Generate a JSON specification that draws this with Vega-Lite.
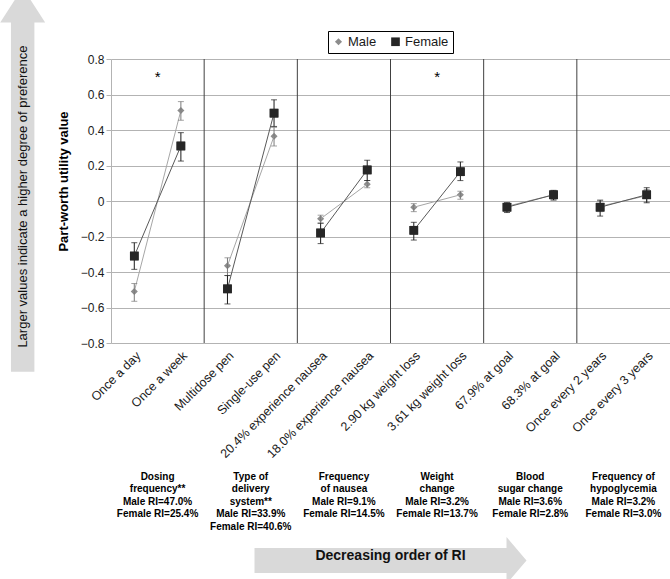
{
  "$schema": "https://vega.github.io/schema/vega-lite/v6.json",
  "width": 559,
  "height": 284,
  "autosize": {"type": "none"},
  "padding": {"left": 111, "top": 59, "right": 0, "bottom": 236},
  "background": "white",
  "config": {
    "font": "Liberation Sans",
    "view": {"stroke": null},
    "axisY": {"tickCount": 12, "format": ".1~f", "grid": true, "gridColor": "#b3b3b3", "domainColor": "#b3b3b3", "tickColor": "#b3b3b3", "tickSize": 5, "labelFontSize": 12, "labelColor": "#1a1a1a", "labelPadding": 2, "labelOverlap": false, "titleFontSize": 13, "titleFontWeight": "bold", "titleColor": "#000000", "titleX": -48, "titleY": 122, "titleAngle": -90, "titleBaseline": "middle", "titleAlign": "center"}
  },
  "datasets": {
    "pw": [
      {"attr": "Dosing frequency", "level": "Once a day", "sex": "Male", "v": -0.51, "lo": -0.565, "hi": -0.465},
      {"attr": "Dosing frequency", "level": "Once a day", "sex": "Female", "v": -0.31, "lo": -0.385, "hi": -0.235},
      {"attr": "Dosing frequency", "level": "Once a week", "sex": "Male", "v": 0.51, "lo": 0.455, "hi": 0.56},
      {"attr": "Dosing frequency", "level": "Once a week", "sex": "Female", "v": 0.31, "lo": 0.225, "hi": 0.385},
      {"attr": "Type of delivery system", "level": "Multidose pen", "sex": "Male", "v": -0.365, "lo": -0.42, "hi": -0.32},
      {"attr": "Type of delivery system", "level": "Multidose pen", "sex": "Female", "v": -0.495, "lo": -0.58, "hi": -0.42},
      {"attr": "Type of delivery system", "level": "Single-use pen", "sex": "Male", "v": 0.365, "lo": 0.31, "hi": 0.415},
      {"attr": "Type of delivery system", "level": "Single-use pen", "sex": "Female", "v": 0.495, "lo": 0.42, "hi": 0.57},
      {"attr": "Frequency of nausea", "level": "20.4% experience nausea", "sex": "Male", "v": -0.1, "lo": -0.125, "hi": -0.08},
      {"attr": "Frequency of nausea", "level": "20.4% experience nausea", "sex": "Female", "v": -0.18, "lo": -0.24, "hi": -0.125},
      {"attr": "Frequency of nausea", "level": "18.0% experience nausea", "sex": "Male", "v": 0.095, "lo": 0.075, "hi": 0.115},
      {"attr": "Frequency of nausea", "level": "18.0% experience nausea", "sex": "Female", "v": 0.175, "lo": 0.115, "hi": 0.23},
      {"attr": "Weight change", "level": "2.90 kg weight loss", "sex": "Male", "v": -0.035, "lo": -0.06, "hi": -0.015},
      {"attr": "Weight change", "level": "2.90 kg weight loss", "sex": "Female", "v": -0.165, "lo": -0.22, "hi": -0.12},
      {"attr": "Weight change", "level": "3.61 kg weight loss", "sex": "Male", "v": 0.035, "lo": 0.01, "hi": 0.055},
      {"attr": "Weight change", "level": "3.61 kg weight loss", "sex": "Female", "v": 0.165, "lo": 0.115, "hi": 0.22},
      {"attr": "Blood sugar change", "level": "67.9% at goal", "sex": "Male", "v": -0.03, "lo": -0.055, "hi": -0.01},
      {"attr": "Blood sugar change", "level": "67.9% at goal", "sex": "Female", "v": -0.035, "lo": -0.065, "hi": -0.01},
      {"attr": "Blood sugar change", "level": "68.3% at goal", "sex": "Male", "v": 0.035, "lo": 0.01, "hi": 0.055},
      {"attr": "Blood sugar change", "level": "68.3% at goal", "sex": "Female", "v": 0.035, "lo": 0.005, "hi": 0.06},
      {"attr": "Frequency of hypoglycemia", "level": "Once every 2 years", "sex": "Male", "v": -0.03, "lo": -0.06, "hi": 0.0},
      {"attr": "Frequency of hypoglycemia", "level": "Once every 2 years", "sex": "Female", "v": -0.035, "lo": -0.085, "hi": 0.005},
      {"attr": "Frequency of hypoglycemia", "level": "Once every 3 years", "sex": "Male", "v": 0.03, "lo": -0.005, "hi": 0.065},
      {"attr": "Frequency of hypoglycemia", "level": "Once every 3 years", "sex": "Female", "v": 0.035, "lo": -0.01, "hi": 0.075}
    ],
    "seps": [
      {"level": "Multidose pen"},
      {"level": "20.4% experience nausea"},
      {"level": "2.90 kg weight loss"},
      {"level": "67.9% at goal"},
      {"level": "Once every 2 years"}
    ],
    "stars": [
      {"level": "Once a week", "txt": "*"},
      {"level": "3.61 kg weight loss", "txt": "*"}
    ],
    "ri": [
      {"level": "Once a week", "txt": "Dosing\nfrequency**\nMale RI=47.0%\nFemale RI=25.4%"},
      {"level": "Single-use pen", "txt": "Type of\ndelivery\nsystem**\nMale RI=33.9%\nFemale RI=40.6%"},
      {"level": "18.0% experience nausea", "txt": "Frequency\nof nausea\nMale RI=9.1%\nFemale RI=14.5%"},
      {"level": "3.61 kg weight loss", "txt": "Weight\nchange\nMale RI=3.2%\nFemale RI=13.7%"},
      {"level": "68.3% at goal", "txt": "Blood\nsugar change\nMale RI=3.6%\nFemale RI=2.8%"},
      {"level": "Once every 3 years", "txt": "Frequency of\nhypoglycemia\nMale RI=3.2%\nFemale RI=3.0%"}
    ],
    "arrowH": [{"label": "Decreasing order of RI"}],
    "arrowV": [{"label": "Larger values indicate a higher degree of preference"}]
  },
  "layer": [
    {
      "layer": [
        {
          "data": {"name": "pw"},
          "mark": {"type": "point", "filled": true, "opacity": 1, "strokeWidth": 0},
          "encoding": {
            "x": {
              "field": "level", "type": "nominal",
              "scale": {"type": "band", "paddingInner": 0, "paddingOuter": 0,
                "domain": ["Once a day", "Once a week", "Multidose pen", "Single-use pen", "20.4% experience nausea", "18.0% experience nausea", "2.90 kg weight loss", "3.61 kg weight loss", "67.9% at goal", "68.3% at goal", "Once every 2 years", "Once every 3 years"]},
              "axis": {"title": null, "labelAngle": -45, "labelFontSize": 12.5, "labelColor": "#1a1a1a", "ticks": false, "domain": false, "grid": false, "labelPadding": 6}
            },
            "y": {
              "field": "v", "type": "quantitative", "title": "Part-worth utility value",
              "scale": {"domain": [-0.8, 0.8], "nice": false, "zero": false},
              "axis": {"values": [-0.8, -0.6, -0.4, -0.2, 0, 0.2, 0.4, 0.6, 0.8], "tickCount": 12}
            },
            "color": {"field": "sex", "type": "nominal", "scale": {"domain": ["Male", "Female"], "range": ["#8c8c8c", "#262626"]},
              "legend": {"orient": "none", "legendX": 217, "legendY": -28, "direction": "horizontal", "title": null, "strokeColor": "#000000", "padding": 4, "labelFontSize": 13, "labelColor": "#1a1a1a", "symbolSize": 50, "columnPadding": 12, "labelOffset": 3, "fillColor": "#ffffff"}},
            "shape": {"field": "sex", "type": "nominal", "scale": {"domain": ["Male", "Female"], "range": ["diamond", "square"]}},
            "size": {"field": "sex", "type": "nominal", "scale": {"domain": ["Male", "Female"], "range": [50, 75]}, "legend": null}
          }
        },
        {
          "data": {"name": "seps"},
          "mark": {"type": "rule", "color": "#404040", "strokeWidth": 1},
          "encoding": {"x": {"field": "level", "type": "nominal", "bandPosition": 0}}
        },
        {
          "data": {"name": "pw"},
          "transform": [{"filter": "datum.sex === 'Male'"}],
          "mark": {"type": "line", "color": "#a6a6a6", "strokeWidth": 1},
          "encoding": {"x": {"field": "level", "type": "nominal"}, "y": {"field": "v", "type": "quantitative", "title": "Part-worth utility value", "axis": {"values": [-0.8, -0.6, -0.4, -0.2, 0, 0.2, 0.4, 0.6, 0.8], "tickCount": 12}}, "detail": {"field": "attr"}}
        },
        {
          "data": {"name": "pw"},
          "transform": [{"filter": "datum.sex === 'Female'"}],
          "mark": {"type": "line", "color": "#595959", "strokeWidth": 1},
          "encoding": {"x": {"field": "level", "type": "nominal"}, "y": {"field": "v", "type": "quantitative", "title": "Part-worth utility value", "axis": {"values": [-0.8, -0.6, -0.4, -0.2, 0, 0.2, 0.4, 0.6, 0.8], "tickCount": 12}}, "detail": {"field": "attr"}}
        },
        {
          "data": {"name": "pw"},
          "transform": [{"filter": "datum.sex === 'Male'"}],
          "mark": {"type": "errorbar", "ticks": {"size": 6, "color": "#7a7a7a"}, "rule": {"color": "#7a7a7a"}},
          "encoding": {"x": {"field": "level", "type": "nominal"}, "y": {"field": "lo", "type": "quantitative", "title": "Part-worth utility value", "axis": {"values": [-0.8, -0.6, -0.4, -0.2, 0, 0.2, 0.4, 0.6, 0.8], "tickCount": 12}}, "y2": {"field": "hi"}}
        },
        {
          "data": {"name": "pw"},
          "transform": [{"filter": "datum.sex === 'Female'"}],
          "mark": {"type": "errorbar", "ticks": {"size": 6, "color": "#1a1a1a"}, "rule": {"color": "#1a1a1a"}},
          "encoding": {"x": {"field": "level", "type": "nominal"}, "y": {"field": "lo", "type": "quantitative", "title": "Part-worth utility value", "axis": {"values": [-0.8, -0.6, -0.4, -0.2, 0, 0.2, 0.4, 0.6, 0.8], "tickCount": 12}}, "y2": {"field": "hi"}}
        },
        {
          "data": {"name": "pw"},
          "transform": [{"filter": "datum.sex === 'Female'"}],
          "mark": {"type": "point", "filled": true, "opacity": 1, "strokeWidth": 0, "shape": "square", "size": 75, "color": "#262626"},
          "encoding": {"x": {"field": "level", "type": "nominal"}, "y": {"field": "v", "type": "quantitative", "title": "Part-worth utility value", "axis": {"values": [-0.8, -0.6, -0.4, -0.2, 0, 0.2, 0.4, 0.6, 0.8], "tickCount": 12}}}
        },
        {
          "data": {"name": "stars"},
          "mark": {"type": "text", "fontSize": 15, "color": "#000000", "baseline": "middle", "align": "center"},
          "encoding": {"x": {"field": "level", "type": "nominal", "bandPosition": 0}, "y": {"datum": 0.7, "type": "quantitative", "title": "Part-worth utility value", "axis": {"values": [-0.8, -0.6, -0.4, -0.2, 0, 0.2, 0.4, 0.6, 0.8], "tickCount": 12}}, "text": {"field": "txt"}}
        },
        {
          "data": {"name": "ri"},
          "mark": {"type": "text", "fontSize": 10, "fontWeight": "bold", "color": "#000000", "baseline": "top", "align": "center", "lineBreak": "\n", "lineHeight": 12.5},
          "encoding": {"x": {"field": "level", "type": "nominal", "bandPosition": 0}, "y": {"datum": -1.525, "type": "quantitative", "title": "Part-worth utility value", "axis": {"values": [-0.8, -0.6, -0.4, -0.2, 0, 0.2, 0.4, 0.6, 0.8], "tickCount": 12}}, "text": {"field": "txt"}}
        },
        {
          "data": {"name": "arrowH"},
          "mark": {"type": "point", "shape": "M -1 -0.092 L 0.853 -0.092 L 0.853 -0.173 L 1 0 L 0.853 0.173 L 0.853 0.092 L -1 0.092 Z", "size": 73984, "filled": true, "fill": "#d9d9d9", "opacity": 1, "strokeWidth": 0},
          "encoding": {"x": {"datum": "2.90 kg weight loss", "type": "nominal", "bandPosition": 0}, "y": {"datum": -2.025, "type": "quantitative", "title": "Part-worth utility value", "axis": {"values": [-0.8, -0.6, -0.4, -0.2, 0, 0.2, 0.4, 0.6, 0.8], "tickCount": 12}}}
        },
        {
          "data": {"name": "arrowH"},
          "mark": {"type": "text", "fontSize": 14, "fontWeight": "bold", "color": "#111111", "baseline": "middle", "align": "center"},
          "encoding": {"x": {"datum": "2.90 kg weight loss", "type": "nominal", "bandPosition": 0}, "y": {"datum": -2.0, "type": "quantitative", "title": "Part-worth utility value", "axis": {"values": [-0.8, -0.6, -0.4, -0.2, 0, 0.2, 0.4, 0.6, 0.8], "tickCount": 12}}, "text": {"field": "label"}}
        }
      ]
    },
    {
      "data": {"name": "arrowV"},
      "layer": [
        {
          "mark": {"type": "point", "shape": "M -0.061 1 L -0.061 -0.819 L -0.117 -0.819 L 0 -1 L 0.117 -0.819 L 0.061 -0.819 L 0.061 1 Z", "size": 147456, "filled": true, "fill": "#d9d9d9", "opacity": 1, "strokeWidth": 0},
          "encoding": {"x": {"datum": -0.158, "type": "quantitative", "scale": {"domain": [0, 1], "nice": false, "zero": false}, "axis": null}, "y": {"datum": 0.12, "type": "quantitative", "title": "Part-worth utility value", "axis": {"values": [-0.8, -0.6, -0.4, -0.2, 0, 0.2, 0.4, 0.6, 0.8], "tickCount": 12}}}
        },
        {
          "mark": {"type": "text", "angle": 270, "fontSize": 13, "color": "#111111", "baseline": "middle", "align": "center"},
          "encoding": {"x": {"datum": -0.158, "type": "quantitative", "axis": null}, "y": {"datum": 0.025, "type": "quantitative", "title": "Part-worth utility value", "axis": {"values": [-0.8, -0.6, -0.4, -0.2, 0, 0.2, 0.4, 0.6, 0.8], "tickCount": 12}}, "text": {"field": "label"}}
        }
      ]
    }
  ],
  "resolve": {"scale": {"x": "independent"}}
}
